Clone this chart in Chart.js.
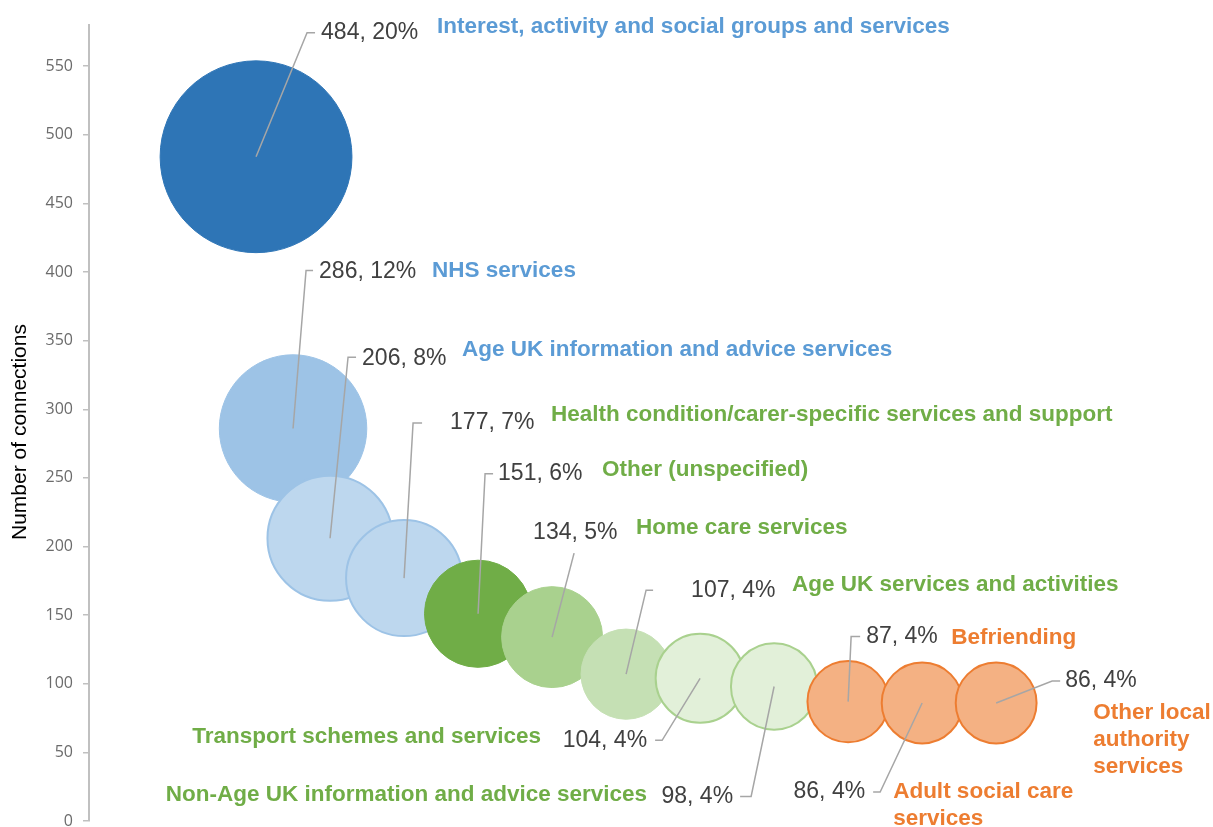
<!DOCTYPE html>
<html>
<head>
<meta charset="utf-8">
<title>Connections by service type</title>
<script src="https://cdn.jsdelivr.net/npm/chart.js@4.4.1/dist/chart.umd.min.js"></script>
<style>
  html, body { margin: 0; padding: 0; background: #fff; }
</style>
</head>
<body>
<canvas id="myChart" width="1213" height="827"></canvas>
<script>
// ---- data ----
var categories = [
  'Interest, activity and social groups and services',
  'NHS services',
  'Age UK information and advice services',
  'Health condition/carer-specific services and support',
  'Other (unspecified)',
  'Home care services',
  'Age UK services and activities',
  'Transport schemes and services',
  'Non-Age UK information and advice services',
  'Befriending',
  'Adult social care services',
  'Other local authority services'
];
var connections = [484, 286, 206, 177, 151, 134, 107, 104, 98, 87, 86, 86];
var shares = [20, 12, 8, 7, 6, 5, 4, 4, 4, 4, 4, 4];
var xPos = [1, 1.5, 2, 3, 4, 5, 6, 7, 8, 9, 10, 11];
var yTickStep = 50;
var yTitle = 'Number of connections';

// ---- styles ----
var fills = ['#2E75B6', '#9DC3E6', '#BDD7EE', '#BDD7EE', '#70AD47', '#A9D18E',
             '#C5E0B4', '#E2F0D9', '#E2F0D9', '#F4B183', '#F4B183', '#F4B183'];
var borders = ['#2E75B6', '#9DC3E6', '#9DC3E6', '#9DC3E6', '#70AD47', '#A9D18E',
               '#C5E0B4', '#A9D18E', '#A9D18E', '#ED7D31', '#ED7D31', '#ED7D31'];
var textColours = ['#5B9BD5', '#5B9BD5', '#5B9BD5', '#70AD47', '#70AD47', '#70AD47',
                   '#70AD47', '#70AD47', '#70AD47', '#ED7D31', '#ED7D31', '#ED7D31'];

// label placement, offsets from the bubble centre
// e = leader elbow, hook = short horizontal end, v = value label, t = category label
var labelPos = [
  {ex: 51, ey: -124, hook: 8,  vx: 65,  vy: -124, va: 'left',  tx: 181,  ty: -130, ta: 'left'},
  {ex: 13, ey: -158, hook: 7,  vx: 26,  vy: -157, va: 'left',  tx: 139,  ty: -158, ta: 'left'},
  {ex: 18, ey: -181, hook: 8,  vx: 32,  vy: -180, va: 'left',  tx: 132,  ty: -188, ta: 'left'},
  {ex: 9,  ey: -155, hook: 9,  vx: 46,  vy: -155, va: 'left',  tx: 147,  ty: -163, ta: 'left'},
  {ex: 7,  ey: -140, hook: 8,  vx: 20,  vy: -140, va: 'left',  tx: 124,  ty: -144, ta: 'left'},
  {ex: 22, ey: -84,  hook: 0,  vx: -19, vy: -104, va: 'left',  tx: 84,   ty: -109, ta: 'left'},
  {ex: 20, ey: -84,  hook: 7,  vx: 65,  vy: -83,  va: 'left',  tx: 166,  ty: -89,  ta: 'left'},
  {ex: -38, ey: 62,  hook: -7, vx: -53, vy: 62,   va: 'right', tx: -159, ty: 59,   ta: 'right'},
  {ex: -23, ey: 110, hook: -11, vx: -41, vy: 110, va: 'right', tx: -127, ty: 108,  ta: 'right'},
  {ex: 3,  ey: -65,  hook: 9,  vx: 18,  vy: -65,  va: 'left',  tx: 103,  ty: -64,  ta: 'left'},
  {ex: -42, ey: 89,  hook: -7, vx: -57, vy: 89,   va: 'right', tx: -29,  ty: 89,   ta: 'left', words: [3, 1]},
  {ex: 56, ey: -22,  hook: 8,  vx: 69,  vy: -22,  va: 'left',  tx: 97,   ty: 10,   ta: 'left', words: [2, 1, 1]}
];

var points = [];
for (var i = 0; i < connections.length; i++) {
  points.push({x: xPos[i], y: connections[i]});
}

var bubbleLabels = {
  id: 'bubbleLabels',
  afterDatasetsDraw: function(chart) {
    var c = chart.ctx;
    var meta = chart.getDatasetMeta(0);
    c.save();
    c.textBaseline = 'middle';
    for (var i = 0; i < meta.data.length; i++) {
      var el = meta.data[i];
      var p = labelPos[i];
      var ex = el.x + p.ex, ey = el.y + p.ey;

      // leader line
      c.strokeStyle = '#a6a6a6';
      c.lineWidth = 1.5;
      c.beginPath();
      c.moveTo(el.x, el.y);
      c.lineTo(ex, ey);
      if (p.hook) c.lineTo(ex + p.hook, ey);
      c.stroke();

      // value label
      c.font = '23px "Liberation Sans", Arial, sans-serif';
      c.fillStyle = '#404040';
      c.textAlign = p.va;
      c.fillText(connections[i] + ', ' + shares[i] + '%', el.x + p.vx, el.y + p.vy);

      // category label
      c.font = 'bold 22.5px "Liberation Sans", Arial, sans-serif';
      c.fillStyle = textColours[i];
      c.textAlign = p.ta;
      var lines = [categories[i]];
      if (p.words) {
        var w = categories[i].split(' ');
        lines = [];
        var k = 0;
        p.words.forEach(function(n) { lines.push(w.slice(k, k + n).join(' ')); k += n; });
      }
      lines.forEach(function(line, j) {
        c.fillText(line, el.x + p.tx, el.y + p.ty + j * 27);
      });
    }

    // y axis title
    c.translate(20, 432);
    c.rotate(-Math.PI / 2);
    c.textAlign = 'center';
    c.font = '21px "Liberation Sans", Arial, sans-serif';
    c.fillStyle = '#000';
    c.fillText(yTitle, 0, 0);
    c.restore();
  }
};

var ctx = document.getElementById('myChart').getContext('2d');
var myChart = new Chart(ctx, {
  type: 'bubble',
  data: {
    datasets: [{
      label: yTitle,
      data: points,
      backgroundColor: fills,
      borderColor: borders,
      borderWidth: [1, 1, 2, 2, 1, 1, 1, 2, 2, 2, 2, 2],
      radius: function(c) { return Math.sqrt(connections[c.dataIndex]) * 4.36; },
      hoverRadius: 0
    }]
  },
  options: {
    responsive: false,
    animation: false,
    events: [],
    layout: {autoPadding: false, padding: {top: 25, bottom: 6, left: 0, right: 0}},
    plugins: {legend: {display: false}, tooltip: {enabled: false}},
    scales: {
      x: {type: 'linear', display: false, min: -1.257, max: 13.93},
      y: {
        min: 0,
        max: 580,
        afterBuildTicks: function(s) {
          s.ticks = s.ticks.filter(function(t) { return t.value % yTickStep === 0; });
        },
        afterFit: function(s) {
          s.width = 89;
          s.paddingTop = 0;
          s.paddingBottom = 0;
        },
        ticks: {
          stepSize: yTickStep,
          padding: 10,
          color: '#6b6b6b',
          font: {family: '"Open Sans", "Liberation Sans", Arial, sans-serif', size: 16}
        },
        grid: {drawOnChartArea: false, tickLength: 6, color: '#c0c0c0', lineWidth: 1.5},
        border: {color: '#c0c0c0', width: 2}
      }
    }
  },
  plugins: [bubbleLabels]
});
</script>
</body>
</html>
